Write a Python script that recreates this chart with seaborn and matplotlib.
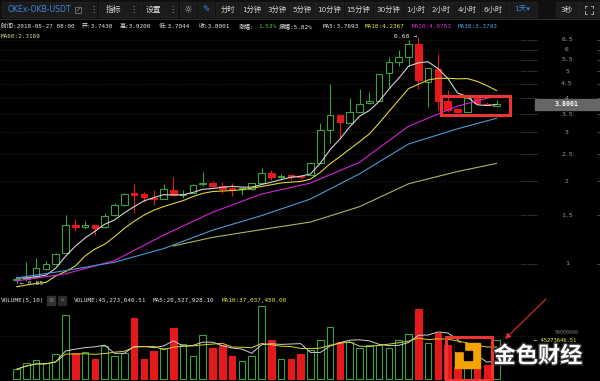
import numpy as np
import pandas as pd
import matplotlib
matplotlib.use("Agg")
import matplotlib.pyplot as plt
import seaborn as sns
from matplotlib.patches import Rectangle, FancyArrowPatch
from matplotlib.ticker import NullLocator
import matplotlib.patheffects as pe

# daily candles (OKEx OKB/USDT), oldest first
opens = [0.875, 0.88, 0.90, 0.96, 1.00, 1.10, 1.385, 1.367, 1.38, 1.36,
         1.50, 1.64, 1.805, 1.79, 1.74, 1.725, 1.855, 1.78, 1.815, 1.946,
         1.96, 1.92, 1.88, 1.866, 1.866, 1.963, 2.133, 2.064, 2.086, 2.075,
         2.10, 2.33, 3.06, 3.47, 3.26, 3.57, 3.83, 3.91, 4.92, 5.39,
         5.65, 6.29, 4.59, 5.09, 3.90, 3.64, 3.57, 3.99, 3.81, 3.743]
highs = [0.89, 1.02, 1.05, 1.025, 1.095, 1.51, 1.46, 1.435, 1.385, 1.535,
         1.67, 1.81, 1.945, 1.82, 1.855, 1.95, 2.07, 1.855, 1.95, 2.15,
         2.005, 1.98, 1.96, 1.88, 1.97, 2.225, 2.19, 2.12, 2.09, 2.08,
         2.34, 3.26, 4.50, 3.48, 3.99, 4.30, 4.20, 4.90, 5.65, 5.98,
         6.49, 6.68, 5.14, 5.79, 4.28, 3.65, 4.00, 4.00, 3.87, 3.92]
lows = [0.85, 0.87, 0.89, 0.955, 0.99, 1.09, 1.32, 1.335, 1.275, 1.355,
        1.49, 1.63, 1.53, 1.68, 1.64, 1.72, 1.775, 1.73, 1.81, 1.92,
        1.88, 1.815, 1.765, 1.78, 1.86, 1.96, 2.02, 2.04, 2.02, 2.03,
        2.10, 2.33, 2.75, 2.85, 3.25, 3.56, 3.80, 3.90, 4.38, 5.25,
        5.25, 4.30, 3.70, 3.62, 3.57, 3.56, 3.56, 3.80, 3.76, 3.7044]
closes = [0.882, 0.89, 0.965, 1.00, 1.09, 1.385, 1.36, 1.38, 1.355, 1.49,
          1.64, 1.80, 1.785, 1.755, 1.72, 1.865, 1.78, 1.79, 1.935, 1.963,
          1.925, 1.875, 1.865, 1.876, 1.963, 2.133, 2.064, 2.086, 2.07, 2.06,
          2.33, 3.06, 3.47, 3.28, 3.57, 3.80, 3.90, 4.89, 5.39, 5.62,
          6.29, 4.65, 5.13, 3.91, 3.62, 3.57, 3.99, 3.83, 3.77, 3.8001]
# volume in millions
volumes = [10.8, 18.6, 21.8, 17.9, 28.5, 74.7, 29.6, 30.8, 22.9, 38.2,
           26.5, 29.6, 70.8, 22.9, 32.4, 35.5, 59.8, 40.6, 26.5, 51.2,
           35.5, 39.4, 26.5, 20.6, 26.5, 85.3, 45.3, 22.9, 22.9, 28.8,
           33.5, 45.3, 60.2, 43.3, 43.3, 35.5, 39.4, 39.4, 35.5, 45.3,
           52.0, 81.8, 41.4, 53.2, 39.4, 14.0, 16.0, 12.0, 15.4, 45.27]

# moving averages that need candles left of the window
ma5_head = [0.89, 0.89, 0.90, 0.91]
ma10_head = [0.827, 0.839, 0.85, 0.857, 0.905, 0.939, 0.983, 1.069, 1.133]
ma_idx = [0, 5, 10, 15, 20, 25, 30, 35, 40, 45, 49]
ma20_vals = [0.868, 0.921, 1.029, 1.272, 1.541, 1.793, 1.967, 2.339, 3.16, 3.74, 4.0783]
ma30_vals = [0.890, 0.946, 1.015, 1.137, 1.326, 1.498, 1.721, 2.124, 2.725, 3.094, 3.3793]
ma60_idx = [16, 20, 25, 30, 35, 40, 45, 49]
ma60_vals = [1.162, 1.249, 1.333, 1.420, 1.614, 1.954, 2.166, 2.3169]

price_ticks = [1, 1.5, 2, 2.5, 3, 3.5, 4, 4.5, 5, 5.5, 6, 6.5]
price_labels = ["1", "1.5", "2", "2.5", "3", "3.5", "4", "4.5", "5", "5.5", "6", "6.5"]

periods = ["分时", "1分钟", "3分钟", "5分钟", "10分钟", "15分钟", "30分钟",
           "1小时", "2小时", "4小时", "6小时"]
period_x = [228, 252, 277, 302, 329, 358, 388, 416, 441, 467, 493]

GREEN = "#3da23d"
RED = "#e3191c"
C_MA5 = "#d4d4d4"
C_MA10 = "#dcd436"
C_MA20 = "#d81fd8"
C_MA30 = "#4b9ad6"
C_MA60 = "#a8b85e"

sns.set_theme(style="dark", rc={"axes.facecolor": "black", "figure.facecolor": "black"})
plt.rcParams['font.family'] = ['DejaVu Sans', 'Noto Sans CJK SC']
MONO = ['DejaVu Sans Mono', 'Noto Sans CJK SC']

df = pd.DataFrame({"open": opens, "high": highs, "low": lows, "close": closes, "vol": volumes})
df["i"] = np.arange(len(df))
df["up"] = df["close"] >= df["open"]
ma5 = df["close"].rolling(5).mean()
ma5.iloc[:4] = ma5_head
ma10 = df["close"].rolling(10).mean()
ma10.iloc[:9] = ma10_head
vma5 = df["vol"].rolling(5, min_periods=1).mean()
vma10 = df["vol"].rolling(10, min_periods=1).mean()

fig = plt.figure(figsize=(6, 3.81), dpi=100, facecolor="black")
ax = fig.add_axes([0, 1 - 292 / 381, 1, 262 / 381])
axv = fig.add_axes([0, 0, 1, 85 / 381])
xlim = (-16.5 / 9.8, (600 - 16.5) / 9.8)

# price panel
ax.set_yscale("log")
ax.set_ylim(0.7914, 7.063)
ax.set_xlim(*xlim)
ax.hlines(price_ticks, xlim[0], 53.1, color="#262626", lw=0.6, linestyles=(0, (1, 2)))
ax.hlines(price_ticks, 51.5, 53.1, color="#5a5a5a", lw=0.6, linestyles=(0, (1, 1)))
ax.hlines(price_ticks, 59.2, xlim[1], color="#5a5a5a", lw=0.6)
for p, lab in zip(price_ticks, price_labels):
    ax.text(56.17, p, lab, color="#9c9c9c", fontsize=4.6, ha="center", va="center",
            family=MONO)

for _, r in df.iterrows():
    col = GREEN if r["up"] else RED
    ax.vlines(r["i"], r["low"], r["high"], color=col, lw=0.8, zorder=2)
    lo = min(r["open"], r["close"])
    hi = max(max(r["open"], r["close"]), lo * 1.012)
    ax.bar(r["i"], hi - lo, bottom=lo, width=0.66, color="black" if r["up"] else RED,
           edgecolor=col, linewidth=0.8, zorder=3)

sns.lineplot(x=df["i"], y=ma5, ax=ax, color=C_MA5, lw=0.8, zorder=4)
sns.lineplot(x=df["i"], y=ma10, ax=ax, color=C_MA10, lw=0.8, zorder=4)
sns.lineplot(x=ma_idx, y=ma20_vals, ax=ax, color=C_MA20, lw=0.8, zorder=4)
sns.lineplot(x=ma_idx, y=ma30_vals, ax=ax, color=C_MA30, lw=0.8, zorder=4)
sns.lineplot(x=ma60_idx, y=ma60_vals, ax=ax, color=C_MA60, lw=0.8, zorder=4)

hi_i = int(np.argmax(highs))
lo_i = int(np.argmin(lows))
ax.text(hi_i - 0.1, highs[hi_i], "6.68 →", color="#e0e0e0", fontsize=4.6, ha="right",
        va="center", family=MONO)
ax.text(lo_i + 0.35, lows[lo_i], "← 0.85", color="#e0e0e0", fontsize=4.6, ha="left",
        va="center", family=MONO)

# volume panel
axv.set_xlim(*xlim)
axv.set_ylim(-2.94, 97.06)
axv.axhline(50, xmin=0, xmax=0.895, color="#262626", lw=0.6, ls=(0, (1, 2)))
for _, r in df.iterrows():
    col = GREEN if r["up"] else RED
    axv.bar(r["i"], r["vol"], width=0.68, color="black" if r["up"] else RED,
            edgecolor=col, linewidth=0.8, zorder=2)
sns.lineplot(x=df["i"], y=vma5, ax=axv, color="#d0d0d0", lw=0.7, zorder=3)
sns.lineplot(x=df["i"], y=vma10, ax=axv, color="#d8d030", lw=0.7, zorder=3)

for a in (ax, axv):
    a.set_xticks([])
    a.set_yticks([])
    a.yaxis.set_minor_locator(NullLocator())
    a.set_xlabel("")
    a.set_ylabel("")
    for s in a.spines.values():
        s.set_visible(False)

# overlay in pixel coordinates: toolbar, legends, annotations
ov = fig.add_axes([0, 0, 1, 1])
ov.set_xlim(0, 600)
ov.set_ylim(381, 0)
ov.axis("off")
ov.patch.set_alpha(0)

ov.add_patch(Rectangle((0, 0), 600, 18, color="#101010", zorder=1))
ov.plot([0, 600], [18.5, 18.5], color="#2c2c2c", lw=0.8)
for x0, w in [(2, 94), (99, 38), (139, 38), (180, 16), (198, 16), (216, 24), (241, 24),
              (266, 24), (291, 24), (316, 27), (345, 27), (374, 28), (404, 24), (429, 24),
              (455, 24), (481, 24), (507, 30), (556, 22), (579, 20)]:
    ov.add_patch(Rectangle((x0, 1.5), w, 15, facecolor="#1b1b1b", edgecolor="#262626",
                           lw=0.5, zorder=2))
ov.text(8, 9.5, "OKEx-OKB-USDT", color="#3b86e0", fontsize=5.6, va="center", zorder=3)
# small "open in window" icon
ov.add_patch(Rectangle((75, 6.5), 6, 6, fill=False, edgecolor="#777777", lw=0.6, zorder=3))
ov.plot([77, 80], [11, 8], color="#777777", lw=0.6, zorder=3)
for xd in (93, 133, 172):
    ov.text(xd, 9.5, "⋮", color="#aaaaaa", fontsize=6, ha="center", va="center", zorder=3)
ov.text(113, 9.5, "指标", color="#d8d8d8", fontsize=5.6, ha="center", va="center", zorder=3)
ov.text(153, 9.5, "设置", color="#d8d8d8", fontsize=5.6, ha="center", va="center", zorder=3)
ov.text(188, 9.5, "☼", color="#bbbbbb", fontsize=7, ha="center", va="center", zorder=3)
ov.text(206, 9.5, "✎", color="#3b86e0", fontsize=6.5, ha="center", va="center", zorder=3)
for lab, xc in zip(periods, period_x):
    ov.text(xc, 9.5, lab, color="#d8d8d8", fontsize=5.2, ha="center", va="center", zorder=3)
ov.text(522, 9.5, "1天▾", color="#3b86e0", fontsize=5.4, ha="center", va="center", zorder=3)
ov.text(567, 9.5, "3秒", color="#d8d8d8", fontsize=5.4, ha="center", va="center", zorder=3)
# fullscreen icon: four corner brackets
for cx, cy, dx, dy in [(585, 5.5, 1, 1), (593, 5.5, -1, 1), (585, 13.5, 1, -1), (593, 13.5, -1, -1)]:
    ov.plot([cx, cx, cx + 2.2 * dx], [cy + 2.2 * dy, cy, cy], color="#bbbbbb", lw=0.6, zorder=3)

info = [("时间:2018-05-27 08:00", 1, "#e6e6e6"), ("开:3.7430", 82, "#e6e6e6"),
        ("高:3.9200", 120, "#e6e6e6"), ("低:3.7044", 159, "#e6e6e6"),
        ("收:3.8001", 199, "#e6e6e6"), ("涨幅:", 239, "#e6e6e6"), ("1.53%", 258, "#3ccf3c"),
        ("振幅:5.82%", 279, "#e6e6e6"), ("MA5:3.7693", 323, "#e6e6e6"),
        ("MA10:4.2367", 365, "#f0e830"), ("MA20:4.0783", 412, "#e030e0"),
        ("MA30:3.3793", 458, "#4fa3e6")]
for txt, x0, c in info:
    ov.text(x0, 26, txt, color=c, fontsize=4.3, va="center", family=MONO)
ov.text(1, 36, "MA60:2.3169", color="#c9e08c", fontsize=4.3, va="center", family=MONO)

# last price tag
ov.add_patch(Rectangle((535, 98.5), 65, 11.5, color="#666666", zorder=3))
ov.text(567, 104.3, "3.8001", color="white", fontsize=4.8, weight="bold", ha="center",
        va="center", family=MONO, zorder=4)

# volume header
ov.text(1, 300.5, "VOLUME(5,10)", color="#e6e6e6", fontsize=4.3, va="center", family=MONO)
ov.add_patch(Rectangle((47, 296), 8, 9, color="#333333"))
ov.text(51, 300.5, "⚙", color="#888888", fontsize=4.5, ha="center", va="center")
ov.add_patch(Rectangle((58, 296), 8, 9, color="#2a2a2a"))
ov.text(62, 300.5, "✕", color="#777777", fontsize=4.5, ha="center", va="center")
ov.text(74, 300.5, "VOLUME:45,273,646.51", color="#e6e6e6", fontsize=4.3, va="center", family=MONO)
ov.text(153, 300.5, "MA5:20,527,928.10", color="#e6e6e6", fontsize=4.3, va="center", family=MONO)
ov.text(222, 300.5, "MA10:37,037,450.00", color="#f0e830", fontsize=4.3, va="center", family=MONO)
ov.text(567, 333, "50000000", color="#7a7a7a", fontsize=3.6, ha="center", va="center", family=MONO)
ov.text(534, 341, "← 45273646.51", color="#f0e830", fontsize=4.0, ha="left", va="center",
        family=MONO)

# highlight boxes, arrow, watermark
ov.add_patch(Rectangle((441, 96), 69, 19, fill=False, edgecolor="#ee3333", lw=2.2, zorder=6))
ov.add_patch(Rectangle((446, 337), 46, 43, fill=False, edgecolor="#ee3333", lw=2.2, zorder=6))
ov.add_patch(Rectangle((455, 343), 25, 25, color="#f5a300", zorder=5))
ov.add_patch(Rectangle((455, 343), 9, 8, color="black", zorder=5))
ov.add_patch(Rectangle((464, 351), 8, 9, color="black", zorder=5))
ov.add_patch(FancyArrowPatch((548, 297), (503, 341), arrowstyle="-|>", mutation_scale=8,
                             color="#e03030", lw=0.8, zorder=6))
ov.text(538, 356, "金色财经", color="white", fontsize=16, weight="bold", ha="center",
        va="center", zorder=7,
        path_effects=[pe.withStroke(linewidth=2, foreground="#333333")])

fig.savefig("out.png", dpi=100, facecolor="black")
